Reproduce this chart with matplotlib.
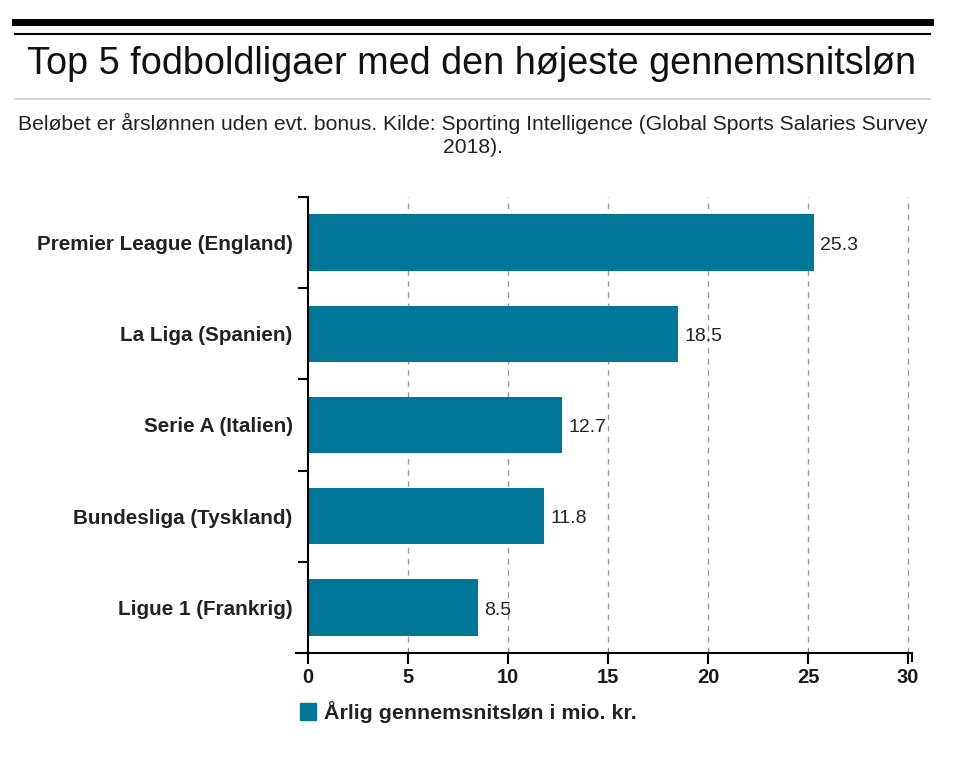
import matplotlib
matplotlib.use("Agg")
import matplotlib.pyplot as plt
from matplotlib.lines import Line2D
from matplotlib.patches import Rectangle

plt.rcParams['font.family'] = ['Liberation Sans', 'DejaVu Sans']

# data
leagues = ["Premier League (England)", "La Liga (Spanien)", "Serie A (Italien)",
           "Bundesliga (Tyskland)", "Ligue 1 (Frankrig)"]
salaries = [25.3, 18.5, 12.7, 11.8, 8.5]
xticks = [0, 5, 10, 15, 20, 25, 30]
bar_color = "#007698"

fig = plt.figure(figsize=(9.6, 7.74), dpi=100)

def fy(px):
    # pixel row from top -> figure fraction
    return 1 - px / 774

# header lines + title
fig.add_artist(Line2D([15/960, 930/960], [fy(21.5)]*2, color="black", lw=5))
fig.add_artist(Line2D([15/960, 930/960], [fy(34)]*2, color="black", lw=1.5))
fig.text(0.4911, fy(74), "Top 5 fodboldligaer med den højeste gennemsnitsløn",
         ha="center", va="baseline", fontsize=27.2, color="#111111")
fig.add_artist(Line2D([15/960, 930/960], [fy(99)]*2, color="#cccccc", lw=1.2))
fig.text(0.4927, fy(130),
         "Beløbet er årslønnen uden evt. bonus. Kilde: Sporting Intelligence (Global Sports Salaries Survey",
         ha="center", va="baseline", fontsize=15.2, color="#222222")
fig.text(0.4927, fy(153), "2018).", ha="center", va="baseline", fontsize=15.2, color="#222222")

ax = fig.add_axes([308/960, fy(653), 600/960, 456/774])
y = list(range(len(leagues)))
ax.barh(y, salaries, height=0.62, color=bar_color)
ax.set_ylim(len(leagues)-0.5, -0.5)
ax.set_xlim(0, 30)

for yi, v in zip(y, salaries):
    ax.text(v + 0.3, yi + 0.03, f"{v}", va="center", ha="left", fontsize=14, color="#222222")

# grid
for t in xticks[1:]:
    ax.axvline(t, color="#999999", lw=1, ls=(0, (4, 4)), zorder=0, clip_on=False)

for s in ["top", "right", "bottom"]:
    ax.spines[s].set_visible(False)
ax.spines["left"].set_linewidth(1.5)

# x axis line extended a bit past both ends
ax.plot([-0.02, 1.006], [0, 0], transform=ax.transAxes, color="black", lw=1.5, clip_on=False)
ax.plot([1.006, 1.006], [0, -0.017], transform=ax.transAxes, color="black", lw=1.5, clip_on=False)

ax.set_xticks(xticks)
ax.set_xticklabels([str(t) for t in xticks], fontsize=14.5, fontweight="bold", color="#1a1a1a")
ax.tick_params(axis="x", direction="out", length=8, width=1.5, pad=3)

# y ticks at band edges, labels at band centres
ax.set_yticks([i - 0.5 for i in range(len(leagues)+1)])
ax.set_yticklabels([])
ax.set_yticks(y, minor=True)
ax.set_yticklabels(leagues, minor=True, fontsize=14.9, fontweight="bold", color="#222222")
ax.tick_params(axis="y", which="major", direction="out", length=7, width=1.5)
ax.tick_params(axis="y", which="minor", length=0, pad=11)

# legend
fig.add_artist(Rectangle((300/960, fy(720)), 16/960, 17/774, color=bar_color))
fig.text(324/960, fy(712), "Årlig gennemsnitsløn i mio. kr.", va="center", ha="left",
         fontsize=15.4, fontweight="bold", color="#222222")

fig.savefig("out.png", dpi=100)
